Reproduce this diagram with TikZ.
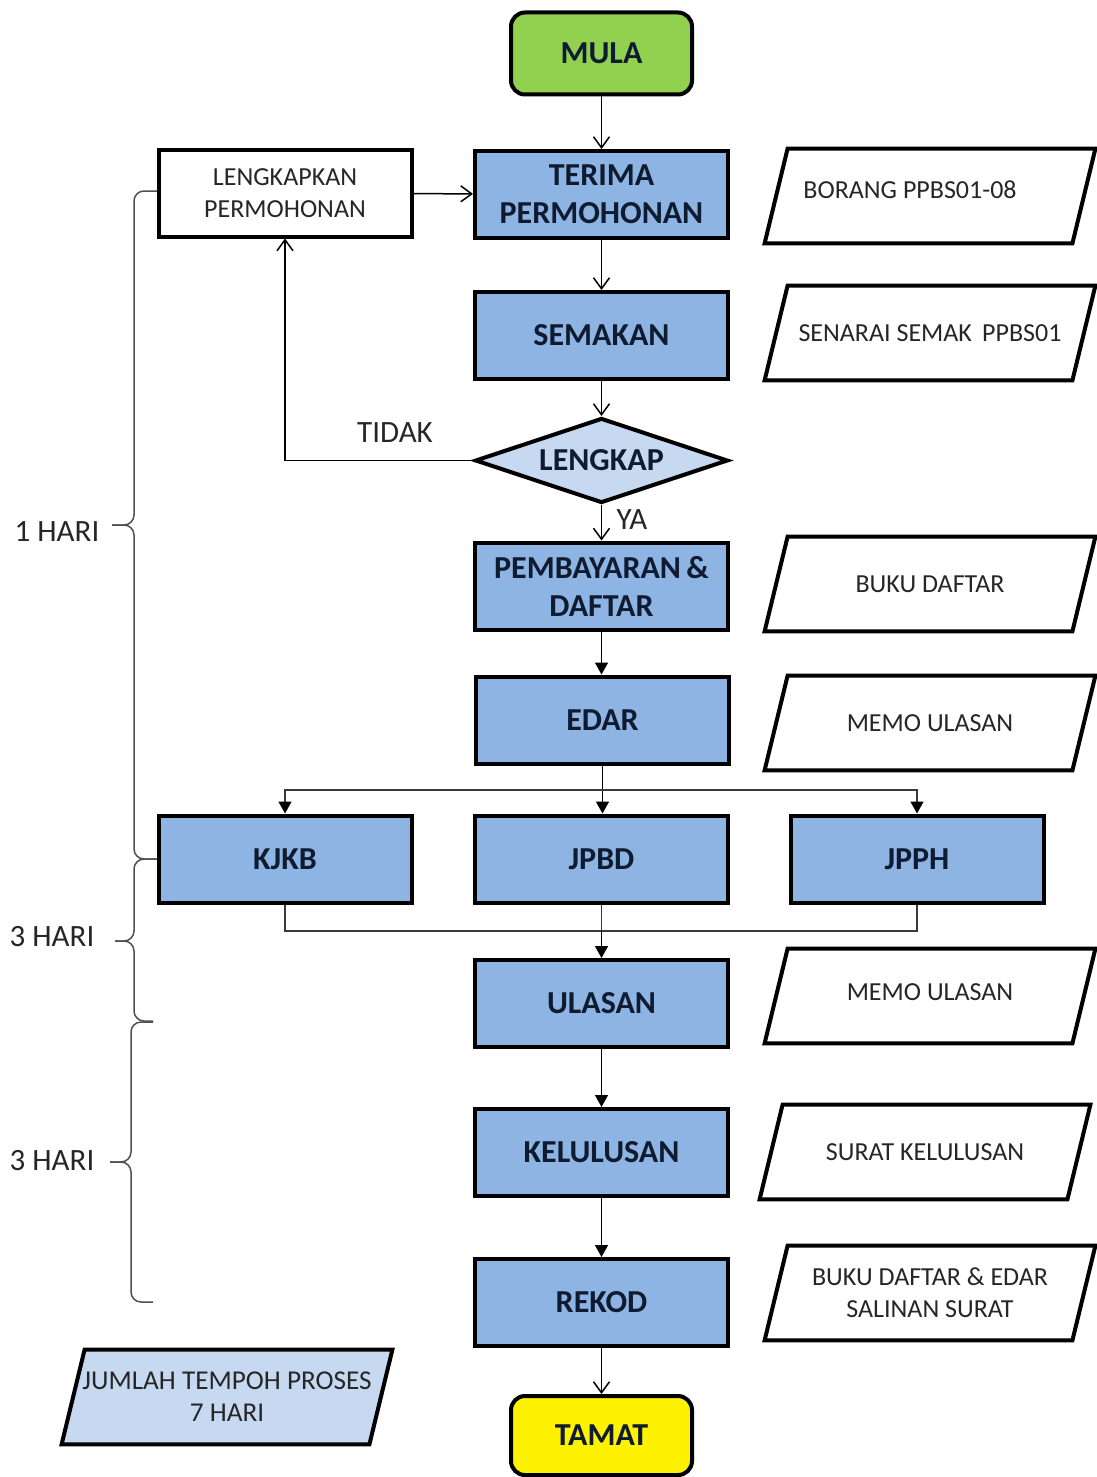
\documentclass[tikz,border=0pt]{standalone}
\usepackage{fontspec}
\setmainfont{Carlito}
\usetikzlibrary{arrows.meta,shapes.geometric,calc}
\definecolor{boxblue}{HTML}{8DB4E2}
\definecolor{lightblue}{HTML}{C6D9F1}
\definecolor{startgreen}{HTML}{92D050}
\definecolor{navy}{HTML}{0F1B30}
\definecolor{txtgray}{HTML}{262626}
\definecolor{bracegray}{HTML}{505050}
\definecolor{linegray}{HTML}{3A3A3A}
\newcommand\docbox[4][white]{%
  \node[docnode] (#2) at (#3) {#4};
  \draw[docline, fill=#1] ([xshift=11.5pt]#2.north west) -- (#2.north east)
     -- ([xshift=-11.5pt]#2.south east) -- (#2.south west) -- cycle;
  \node[doctext] at (#2.center) {#4};}
\begin{document}
\begin{tikzpicture}[x=0.5pt,y=-0.5pt,
  proc/.style={draw=black, line width=2pt, fill=boxblue, minimum width=126.5pt,
    minimum height=43.5pt, font=\bfseries\fontsize{16}{19}\selectfont, text=navy,
    align=center, inner sep=0pt},
  whitebox/.style={proc, fill=white, font=\fontsize{13}{16}\selectfont, text=txtgray},
  term/.style={draw=black, line width=2pt, rounded corners=7pt, minimum width=90.5pt,
    minimum height=41pt, font=\bfseries\fontsize{16}{19}\selectfont, text=navy, inner sep=0pt},
  decision/.style={diamond, draw=black, line width=2pt, fill=lightblue, minimum width=126.5pt,
    minimum height=42.5pt, aspect=2.98, inner sep=0pt, font=\bfseries\fontsize{16}{19}\selectfont, text=navy},
  docnode/.style={minimum width=165pt, minimum height=47pt, inner sep=0pt, draw=none,
    text opacity=0, align=center, font=\fontsize{13}{16}\selectfont},
  docline/.style={draw=black, line width=2pt, line join=miter},
  doctext/.style={font=\fontsize{13}{16}\selectfont, text=txtgray, align=center, inner sep=0pt},
  lbl/.style={font=\fontsize{15.5}{18}\selectfont, text=txtgray, inner sep=0pt},
  openarrow/.style={draw=black, line width=0.75pt, -{Straight Barb[length=5.5pt,width=8pt,line width=0.75pt]}},
  fillarrow/.style={draw=black, line width=0.75pt, -{Triangle[length=6pt,width=6.5pt]}},
  joinline/.style={draw=linegray, line width=0.6pt},
  bracestyle/.style={draw=bracegray, line width=0.75pt, rounded corners=5pt}
]
\useasboundingbox (0,0) rectangle (1097,1477);

% main column
\node[term, fill=startgreen] (mula) at (601.5,53.5) {MULA};
\node[proc] (terima) at (601.5,194.5) {TERIMA\\PERMOHONAN};
\node[whitebox] (lengkapkan) at (285,193) {LENGKAPKAN\\PERMOHONAN};
\node[proc] (semakan) at (601.5,335.5) {SEMAKAN};
\node[decision] (lengkap) at (601.5,460.5) {LENGKAP};
\node[proc] (bayar) at (601.5,586) {PEMBAYARAN\,\&\\DAFTAR};
\node[proc] (edar) at (602.5,720) {EDAR};
\node[proc] (kjkb) at (285,859) {KJKB};
\node[proc] (jpbd) at (601.5,859) {JPBD};
\node[proc] (jpph) at (917,859) {JPPH};
\node[proc] (ulasan) at (601.5,1003.5) {ULASAN};
\node[proc] (kelulusan) at (601.5,1152.5) {KELULUSAN};
\node[proc] (rekod) at (601.5,1302.5) {REKOD};
\node[term, fill=yellow, minimum height=39.5pt] (tamat) at (601.5,1435.5) {TAMAT};

% document shapes
\docbox{dborang}{930,196}{\raisebox{6pt}{BORANG PPBS01-08}\hspace*{20pt}}
\docbox{dsenarai}{930,333}{SENARAI SEMAK\, PPBS01}
\docbox{dbuku}{930,584}{BUKU DAFTAR}
\docbox{dmemo}{930,723}{MEMO ULASAN}
\docbox{dmemob}{930,996}{\raisebox{4pt}{MEMO ULASAN}}
\docbox{dsurat}{925,1152}{SURAT KELULUSAN}
\docbox{drekod}{930,1293}{BUKU DAFTAR \& EDAR\\SALINAN SURAT}
\docbox[lightblue]{djumlah}{227,1397}{\fontsize{13.6}{16}\selectfont JUMLAH TEMPOH PROSES\\\fontsize{13.6}{16}\selectfont 7 HARI}

% connectors
\draw[openarrow] (mula) -- (terima);
\draw[openarrow] (lengkapkan) -- (terima);
\draw[openarrow] (terima) -- (semakan);
\draw[openarrow] (semakan) -- (lengkap);
\draw[openarrow] (lengkap.west) -| (lengkapkan.south);
\draw[openarrow] (lengkap.south) -- (bayar.north);
\node[lbl] (tidak) at (395,433) {TIDAK};
\node[lbl] (ya) at (632,520) {YA};
\draw[fillarrow] (bayar.south) -- (bayar.south |- edar.north);

\coordinate (split) at (602,790);
\coordinate (join) at (602,931);
\draw[fillarrow] (edar.south) -- (edar.south |- jpbd.north);
\draw[joinline] (split) -| ($(kjkb.north)+(0,-12)$);
\draw[joinline] (split) -| ($(jpph.north)+(0,-12)$);
\draw[fillarrow] ($(kjkb.north)+(0,-12)$) -- (kjkb.north);
\draw[fillarrow] ($(jpph.north)+(0,-12)$) -- (jpph.north);
\draw[joinline] (kjkb.south) |- (join);
\draw[joinline] (jpph.south) |- (join);
\draw[fillarrow] (jpbd.south |- join) -- (ulasan.north);
\draw[joinline] (jpbd.south) -- (jpbd.south |- join);
\draw[fillarrow] (ulasan) -- (kelulusan);
\draw[fillarrow] (kelulusan) -- (rekod);
\draw[openarrow] (rekod) -- (tamat);

% braces
\draw[bracestyle] (157,191) -- (134,191) -- (134,525) -- (112,525);
\draw[bracestyle] (112,525) -- (134,525) -- (134,859) -- (157,859);
\draw[bracestyle] (157,859) -- (134,859) -- (134,941) -- (115,941);
\draw[bracestyle] (115,941) -- (134,941) -- (134,1021) -- (153,1021);
\draw[bracestyle] (153,1022) -- (131,1022) -- (131,1162) -- (110,1162);
\draw[bracestyle] (110,1162) -- (131,1162) -- (131,1302) -- (153,1302);
\node[lbl] (h1) at (57,532) {1 HARI};
\node[lbl] (h2) at (52,937) {3 HARI};
\node[lbl] (h3) at (52,1161) {3 HARI};
\end{tikzpicture}
\end{document}
